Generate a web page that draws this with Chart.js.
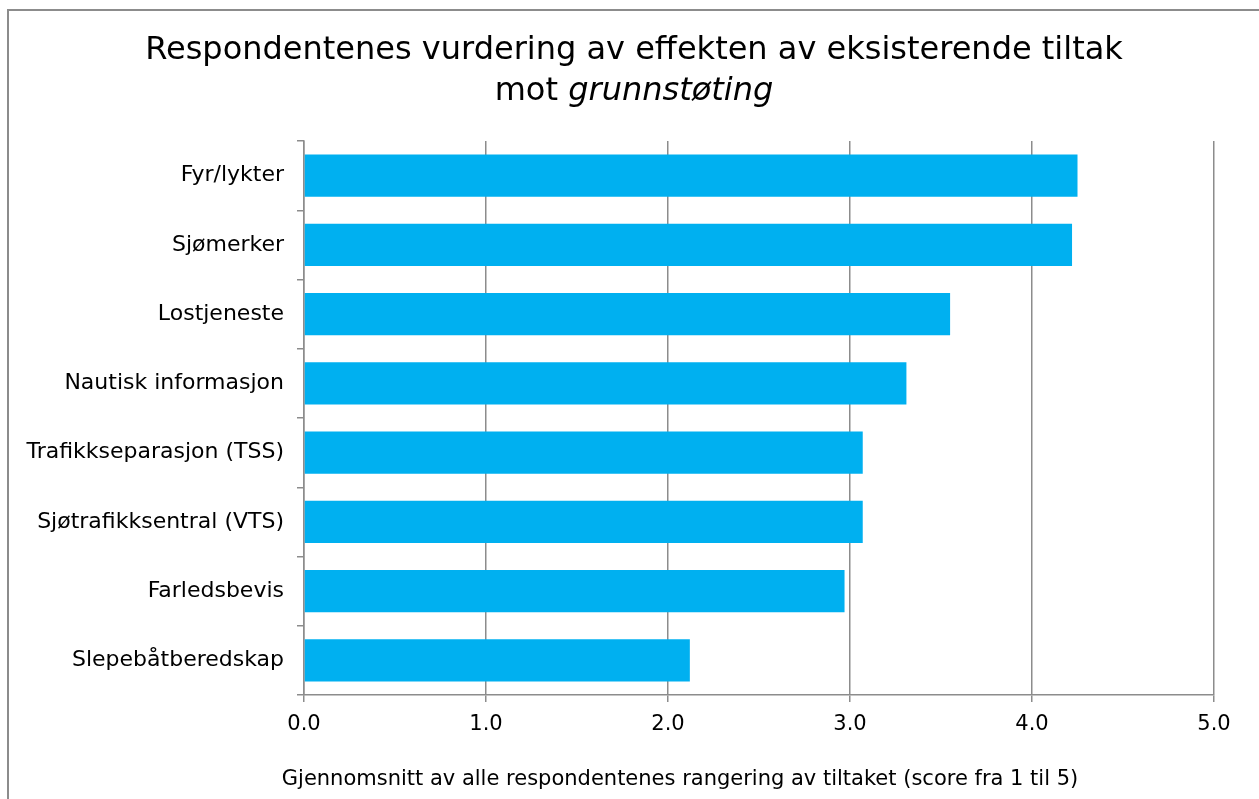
<!DOCTYPE html>
<html>
<head>
<meta charset="utf-8">
<script src="https://cdn.jsdelivr.net/npm/chart.js@4"></script>
<style>
  html, body { margin: 0; padding: 0; background: #fff; }
  #wrap { position: relative; width: 1259px; height: 799px; }
</style>
</head>
<body>
<div id="wrap"><canvas id="c" width="1259" height="799"></canvas></div>
<script>
const categories = [
  'Fyr/lykter',
  'Sjømerker',
  'Lostjeneste',
  'Nautisk informasjon',
  'Trafikkseparasjon (TSS)',
  'Sjøtrafikksentral (VTS)',
  'Farledsbevis',
  'Slepebåtberedskap'
];
const scores = [4.25, 4.22, 3.55, 3.31, 3.07, 3.07, 2.97, 2.12];
const titleLine1 = 'Respondentenes vurdering av effekten av eksisterende tiltak';
const titleLine2Plain = 'mot ';
const titleLine2Italic = 'grunnstøting';
const xAxisTitle = 'Gjennomsnitt av alle respondentenes rangering av tiltaket (score fra 1 til 5)';

const FONT = '"DejaVu Sans", Verdana, sans-serif';
const GRID = '#8c8c8c';

// Outer frame, two-line heading (second line partly italic) and the value-axis caption
const frameAndHeading = {
  id: 'frameAndHeading',
  beforeDraw(chart) {
    const ctx = chart.ctx;
    ctx.save();
    ctx.strokeStyle = '#8c8c8c';
    ctx.lineWidth = 2;
    ctx.strokeRect(8, 10, 1400, 1000);
    ctx.restore();
  },
  afterDraw(chart) {
    const ctx = chart.ctx;
    const cx = 634;
    ctx.save();
    ctx.fillStyle = '#000';
    ctx.textBaseline = 'middle';
    const plainFont = '32px ' + FONT;
    const italicFont = 'italic 32px ' + FONT;
    ctx.font = plainFont;
    ctx.textAlign = 'center';
    ctx.fillText(titleLine1, cx, 51);
    ctx.textAlign = 'left';
    const w1 = ctx.measureText(titleLine2Plain).width;
    ctx.font = italicFont;
    const w2 = ctx.measureText(titleLine2Italic).width;
    const x = cx - (w1 + w2) / 2;
    ctx.font = plainFont;
    ctx.fillText(titleLine2Plain, x, 92);
    ctx.font = italicFont;
    ctx.fillText(titleLine2Italic, x + w1, 92);

    ctx.font = '21px ' + FONT;
    ctx.textAlign = 'center';
    ctx.fillText(xAxisTitle, 680, 780);
    ctx.restore();
  }
};

new Chart(document.getElementById('c'), {
  type: 'bar',
  data: {
    labels: categories,
    datasets: [{
      data: scores,
      backgroundColor: '#00b0f0',
      borderWidth: 0,
      barPercentage: 0.61,
      categoryPercentage: 1.0
    }]
  },
  plugins: [frameAndHeading],
  options: {
    indexAxis: 'y',
    responsive: false,
    animation: false,
    devicePixelRatio: 1,
    layout: { padding: { top: 141, right: 45, bottom: 0, left: 0 } },
    plugins: {
      legend: { display: false },
      tooltip: { enabled: false },
      title: { display: false }
    },
    scales: {
      y: {
        afterFit(scale) { scale.width = 304; },
        grid: {
          offset: true,
          drawOnChartArea: false,
          drawTicks: true,
          tickLength: 7,
          color: GRID,
          lineWidth: 1.5
        },
        border: { display: true, color: GRID, width: 1.5 },
        ticks: {
          color: '#000',
          font: { family: FONT, size: 22 },
          padding: 13
        }
      },
      x: {
        min: 0,
        max: 5,
        afterFit(scale) { scale.height = 104; },
        ticks: {
          stepSize: 1,
          color: '#000',
          font: { family: FONT, size: 21 },
          padding: 10,
          callback: (v) => Number(v).toFixed(1)
        },
        grid: {
          drawTicks: true,
          tickLength: 7,
          color: GRID,
          lineWidth: 1.5
        },
        border: { display: true, color: GRID, width: 1.5 }
      }
    }
  }
});
</script>
</body>
</html>
